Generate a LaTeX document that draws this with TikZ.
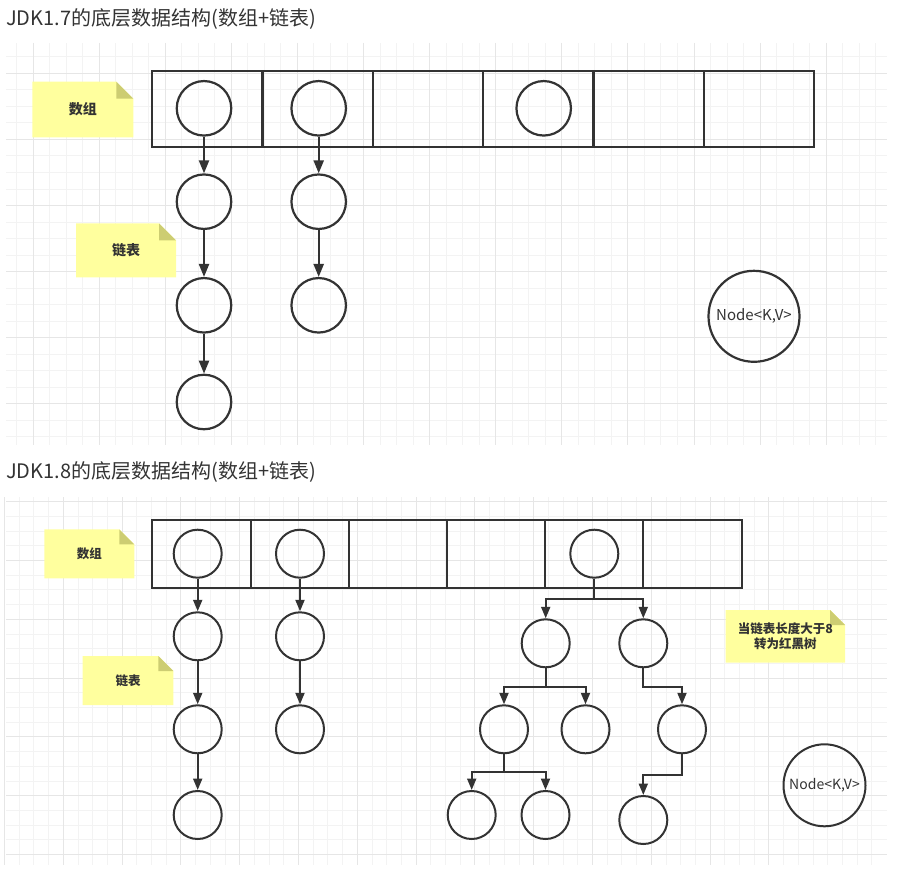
\documentclass[tikz,border=0pt]{standalone}
\usepackage{fontspec}
\setmainfont{Noto Sans CJK SC}
\usetikzlibrary{arrows.meta,positioning}

\definecolor{ink}{HTML}{333333}
\definecolor{notefill}{HTML}{FFFF9E}
\definecolor{notefold}{HTML}{CDCD72}
\definecolor{gridminor}{HTML}{F3F3F3}
\definecolor{gridmajor}{HTML}{E6E6E6}

% sticky note: name, x1, y1, x2, y2, fold, text
\newcommand\stickynote[7]{%
  \fill[notefill] (#2,#3) -- (#4-#6,#3) -- (#4,#3+#6) -- (#4,#5) -- (#2,#5) -- cycle;
  \fill[notefold] (#4-#6,#3) -- (#4-#6,#3+#6) -- (#4,#3+#6) -- cycle;
  \node[notetext] (#1) at ({(#2+#4)/2},{(#3+#5)/2}) {#7};}

\begin{document}
\begin{tikzpicture}
    [x=1pt,y=-1pt,
    title/.style={anchor=west,inner sep=0pt,text=ink,font=\fontsize{20}{23}\selectfont},
    notetext/.style={inner sep=0pt,align=center,text=ink,font=\bfseries\fontsize{14}{16}\selectfont},
    cell/.style={rectangle,draw=ink,line width=2.2pt,minimum width=110.3pt,minimum height=76.6pt},
    cellb/.style={rectangle,draw=ink,line width=2pt,minimum width=98.2pt,minimum height=67.7pt},
    entry/.style={circle,draw=ink,line width=2.2pt,minimum size=54.5pt,inner sep=0pt},
    entryb/.style={circle,draw=ink,line width=2pt,minimum size=48pt,inner sep=0pt},
    link/.style={draw=ink,line width=2.2pt,->,>={Triangle[length=13pt,width=10pt]}},
    linkb/.style={draw=ink,line width=2pt,->,>={Triangle[length=11.5pt,width=9pt]}},
    kvnode/.style={circle,draw=ink,line width=2.2pt,inner sep=0pt,text=ink}]

    \useasboundingbox (0,0) rectangle (902,875);

    %% JDK1.7
    \foreach \k in {0,...,52} \draw[gridminor,line width=1pt] ({16.5+16.525*\k},43) -- ({16.5+16.525*\k},445);
    \foreach \k in {0,...,23} \draw[gridminor,line width=1pt] (6,{56.8+16.525*\k}) -- (887,{56.8+16.525*\k});
    \foreach \k in {0,...,12} \draw[gridmajor,line width=1pt] ({33+66.1*\k},43) -- ({33+66.1*\k},445);
    \foreach \k in {0,...,5} \draw[gridmajor,line width=1pt] (6,{73.3+66.1*\k}) -- (887,{73.3+66.1*\k});

    \node[title] (t17) at (6,19) {JDK1.7的底层数据结构(数组+链表)};

    \foreach \i in {1,...,6}
        \node[cell] (a\i) at ({152.3+110.28*(\i-0.5)},109) {};

    \node[entry] (e1) at (204,108.3) {};
    \node[entry] (e2) at (318.7,108.3) {};
    \node[entry] (e4) at (543.7,108.3) {};

    \node[entry] (c11) at (204,201.7) {};
    \node[entry] (c12) at (204,305.3) {};
    \node[entry] (c13) at (204,402) {};
    \node[entry] (c21) at (318.7,201.7) {};
    \node[entry] (c22) at (318.7,305.3) {};

    \draw[link] (e1) -- (c11);
    \draw[link] (c11) -- (c12);
    \draw[link] (c12) -- (c13);
    \draw[link] (e2) -- (c21);
    \draw[link] (c21) -- (c22);

    \stickynote{arr17}{32.3}{81.7}{133.3}{137.3}{17}{数组}
    \stickynote{list17}{76}{223.3}{176}{277.3}{17}{链表}

    \node[kvnode,minimum size=91pt,font=\fontsize{15}{17}\selectfont] (kv17) at (754,316.3) {Node<K,V>};

    %% JDK1.8
    \foreach \k in {0,...,58} \draw[gridminor,line width=1pt] ({19.2+14.7*\k},497) -- ({19.2+14.7*\k},865);
    \foreach \k in {0,...,24} \draw[gridminor,line width=1pt] (6,{501.7+14.7*\k}) -- (887,{501.7+14.7*\k});
    \foreach \k in {0,...,13} \draw[gridmajor,line width=1pt] ({63.3+58.8*(\k-1)},497) -- ({63.3+58.8*(\k-1)},865);
    \foreach \k in {0,...,6} \draw[gridmajor,line width=1pt] (6,{501.7+58.8*\k}) -- (887,{501.7+58.8*\k});

    \node[title] (t18) at (6,472) {JDK1.8的底层数据结构(数组+链表)};

    \foreach \i in {1,...,6}
        \node[cellb] (b\i) at ({152.3+98.2*(\i-0.5)},553.9) {};

    \node[entryb] (f1) at (197.7,553.7) {};
    \node[entryb] (f2) at (300,553.7) {};
    \node[entryb] (f5) at (594.3,553.7) {};

    \node[entryb] (d11) at (197.7,636.3) {};
    \node[entryb] (d12) at (197.7,729.3) {};
    \node[entryb] (d13) at (197.7,815) {};
    \node[entryb] (d21) at (300,636.3) {};
    \node[entryb] (d22) at (300,729.3) {};

    \draw[linkb] (f1) -- (d11);
    \draw[linkb] (d11) -- (d12);
    \draw[linkb] (d12) -- (d13);
    \draw[linkb] (f2) -- (d21);
    \draw[linkb] (d21) -- (d22);

    % red-black tree
    \node[entryb] (r1) at (545.7,643.3) {};
    \node[entryb] (r2) at (643.3,643.3) {};
    \node[entryb] (r11) at (504,729.3) {};
    \node[entryb] (r12) at (585.5,729.3) {};
    \node[entryb] (r21) at (682,729.3) {};
    \node[entryb] (r111) at (471.7,815) {};
    \node[entryb] (r112) at (545.5,815) {};
    \node[entryb] (r211) at (643.3,820) {};

    \draw[linkb] (f5.south) -- (f5.south |- 0,599) -| (r1.north);
    \draw[linkb] (f5.south) -- (f5.south |- 0,599) -| (r2.north);
    \draw[linkb] (r1.south) -- (r1.south |- 0,686.7) -| (r11.north);
    \draw[linkb] (r1.south) -- (r1.south |- 0,686.7) -| (r12.north);
    \draw[linkb] (r2.south) -- (r2.south |- 0,686.7) -| (r21.north);
    \draw[linkb] (r11.south) -- (r11.south |- 0,772.3) -| (r111.north);
    \draw[linkb] (r11.south) -- (r11.south |- 0,772.3) -| (r112.north);
    \draw[linkb] (r21.south) -- (r21.south |- 0,775) -| (r211.north);

    \begin{scope}[notetext/.append style={font=\bfseries\fontsize{12.5}{15.7}\selectfont}]
    \stickynote{arr18}{44.3}{529.3}{134.3}{578.3}{15}{数组}
    \stickynote{list18}{82.7}{656}{173.3}{705}{15}{链表}
    \stickynote{tree18}{725.7}{610}{845}{662.7}{15}{当链表长度大于8\\转为红黑树}
    \end{scope}

    \node[kvnode,line width=2pt,minimum size=82pt,font=\fontsize{14}{16}\selectfont] (kv18) at (824.5,785.3) {Node<K,V>};
\end{tikzpicture}
\end{document}
